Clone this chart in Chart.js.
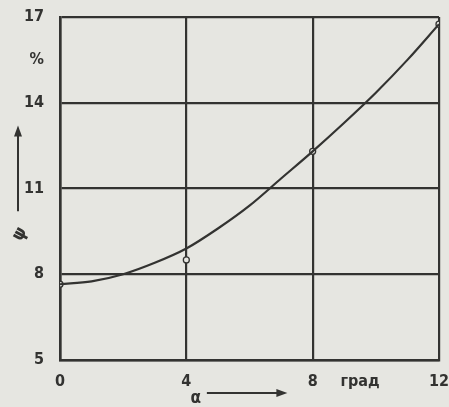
<!DOCTYPE html>
<html>
<head>
<meta charset="utf-8">
<script src="https://cdn.jsdelivr.net/npm/chart.js@4/dist/chart.umd.min.js"></script>
<style>
  html, body { margin: 0; padding: 0; background: #e6e6e1; overflow: hidden; }
  #wrap { width: 449px; height: 407px; position: relative; }
  canvas { display: block; }
</style>
</head>
<body>
<div id="wrap"><canvas id="c" width="449" height="407"></canvas></div>
<script>
// Curve (alpha in degrees, psi in %)
const curveAlpha = [0, 1, 2, 3, 4, 5, 6, 7, 8, 9, 10, 11, 12];
const curvePsi   = [7.65, 7.75, 8.0, 8.4, 8.9, 9.6, 10.4, 11.35, 12.3, 13.3, 14.35, 15.5, 16.75];
// Measured points (open circles)
const pointAlpha = [0, 4, 8, 12];
const pointPsi   = [7.65, 8.5, 12.3, 16.75];
// Axis ticks and labels
const xTicks = [0, 4, 8, 9.5, 12];
const xTickLabels = ['0', '4', '8', 'град', '12'];
const yTicks = [5, 8, 11, 14, 15.5, 17];
const yTickLabels = ['5', '8', '11', '14', '%', '17'];
const xTitle = 'α';
const yTitle = 'ψ';

const INK = '#333331';
const PAPER = '#e6e6e1';
const FONT = "'Liberation Sans Narrow', 'DejaVu Sans Condensed', sans-serif";

const arrowsPlugin = {
  id: 'arrows',
  afterDraw(chart) {
    const ctx = chart.ctx;
    const xs = chart.scales.x, ys = chart.scales.y;
    ctx.save();
    ctx.strokeStyle = INK; ctx.fillStyle = INK; ctx.lineWidth = 2;
    // x-axis title and arrow
    const yx = xs.bottom - 14;
    ctx.font = "bold 17px " + FONT;
    ctx.textAlign = 'center'; ctx.textBaseline = 'middle';
    ctx.fillText(xTitle, xs.getPixelForValue(4.3), yx + 6);
    const x0 = xs.getPixelForValue(4.65), x1 = xs.getPixelForValue(7.2);
    ctx.beginPath(); ctx.moveTo(x0, yx); ctx.lineTo(x1 - 8, yx); ctx.stroke();
    ctx.beginPath(); ctx.moveTo(x1, yx); ctx.lineTo(x1 - 11, yx - 4); ctx.lineTo(x1 - 11, yx + 4); ctx.closePath(); ctx.fill();
    // y-axis title and arrow
    const xy = ys.left + 18;
    const ya = ys.getPixelForValue(10.2), yb = ys.getPixelForValue(13.2);
    ctx.beginPath(); ctx.moveTo(xy, ya); ctx.lineTo(xy, yb + 8); ctx.stroke();
    ctx.beginPath(); ctx.moveTo(xy, yb); ctx.lineTo(xy - 4, yb + 11); ctx.lineTo(xy + 4, yb + 11); ctx.closePath(); ctx.fill();
    ctx.translate(xy + 2, ys.getPixelForValue(9.4));
    ctx.rotate(-Math.PI / 2 + 0.5);
    ctx.font = "bold 18px " + FONT;
    ctx.fillText(yTitle, 0, 0);
    ctx.restore();
  }
};

function noPad(s) { s.paddingTop = 0; s.paddingBottom = 0; s.paddingLeft = 0; s.paddingRight = 0; }

new Chart(document.getElementById('c'), {
  type: 'scatter',
  data: {
    datasets: [
      {
        data: curveAlpha.map((a, i) => ({ x: a, y: curvePsi[i] })),
        showLine: true,
        borderColor: INK,
        borderWidth: 2.2,
        pointRadius: 0,
        cubicInterpolationMode: 'monotone',
        fill: false
      },
      {
        data: pointAlpha.map((a, i) => ({ x: a, y: pointPsi[i] })),
        showLine: false,
        pointRadius: 3,
        pointBorderWidth: 1.3,
        pointBorderColor: INK,
        pointBackgroundColor: PAPER
      }
    ]
  },
  options: {
    responsive: false,
    maintainAspectRatio: false,
    animation: false,
    devicePixelRatio: 1,
    layout: { padding: { top: 17, right: 10, left: 0, bottom: 0 } },
    plugins: { legend: { display: false }, tooltip: { enabled: false } },
    scales: {
      x: {
        type: 'linear', min: 0, max: 12,
        afterBuildTicks: s => { s.ticks = xTicks.map(v => ({ value: v })); },
        afterFit: s => { s.height = 47; noPad(s); },
        ticks: {
          autoSkip: false, maxRotation: 0, padding: 12,
          color: INK, font: { family: FONT, size: 16, weight: 'bold' },
          callback: (v) => { const i = xTicks.indexOf(v); return i >= 0 ? xTickLabels[i] : ''; }
        },
        grid: {
          drawTicks: false, lineWidth: 2.2,
          color: c => (c.tick && c.tick.value === 9.5) ? 'rgba(0,0,0,0)' : INK
        },
        border: { display: true, color: INK, width: 2.6 }
      },
      y: {
        type: 'linear', min: 5, max: 17,
        afterBuildTicks: s => { s.ticks = yTicks.map(v => ({ value: v })); },
        afterFit: s => { s.width = 60; noPad(s); },
        ticks: {
          autoSkip: false, padding: 16,
          color: INK, font: { family: FONT, size: 16, weight: 'bold' },
          callback: (v) => { const i = yTicks.indexOf(v); return i >= 0 ? yTickLabels[i] : ''; }
        },
        grid: {
          drawTicks: false, lineWidth: 2.2,
          color: c => (c.tick && c.tick.value === 15.5) ? 'rgba(0,0,0,0)' : INK
        },
        border: { display: true, color: INK, width: 2.6 }
      }
    }
  },
  plugins: [arrowsPlugin]
});
</script>
</body>
</html>
